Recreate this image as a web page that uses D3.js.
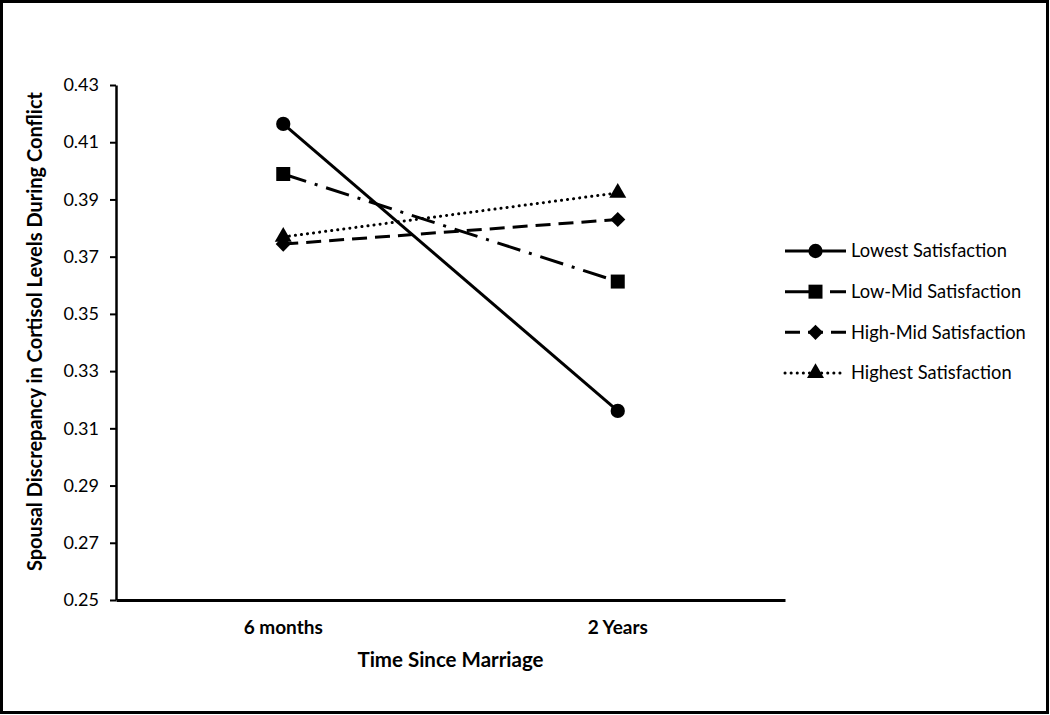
<!DOCTYPE html>
<html>
<head>
<meta charset="utf-8">
<script src="https://cdn.jsdelivr.net/npm/d3@7"></script>
<style>
  body { margin: 0; background: #fff; }
  text { font-family: Lato, "Open Sans", sans-serif; fill: #000; }
</style>
</head>
<body>
<svg id="chart" width="1050" height="715"></svg>
<script>
const categories = ["6 months", "2 Years"]
const yTicks = [0.25, 0.27, 0.29, 0.31, 0.33, 0.35, 0.37, 0.39, 0.41, 0.43]
const seriesNames = ["Lowest Satisfaction", "Low-Mid Satisfaction", "High-Mid Satisfaction", "Highest Satisfaction"]
const lowest = [0.4164, 0.3161]
const lowMid = [0.3989, 0.3613]
const highMid = [0.3744, 0.3830]
const highest = [0.3769, 0.3923]

const seriesValues = [lowest, lowMid, highMid, highest]
const styles = [
    { dash: null, cap: "butt", symbol: d3.symbolCircle, size: 160, rotate: 0 },
    { dash: "24,9,3,9", cap: "butt", symbol: d3.symbolSquare, size: 196, rotate: 0 },
    { dash: "15,8", cap: "butt", symbol: d3.symbolSquare, size: 115, rotate: 45 },
    { dash: "0.1,6", cap: "round", symbol: d3.symbolTriangle, size: 125, rotate: 0 }
]

const svg = d3.select("#chart")
const W = +svg.attr("width"), H = +svg.attr("height")

// outer frame
svg.append("rect").attr("x", 1.5).attr("y", 1.5).attr("width", W - 4).attr("height", H - 4)
    .attr("fill", "#fff").attr("stroke", "#000").attr("stroke-width", 3)

const plotL = 116, plotR = 785, plotT = 85, plotB = 600

const scX = d3.scaleBand().domain(categories).range([plotL, plotR])
const scY = d3.scaleLinear().domain([0.25, 0.43]).range([plotB, plotT])

// y axis
let yAxis = svg.append("g").attr("transform", `translate(${plotL},0)`)
    .call(d3.axisLeft(scY).tickValues(yTicks).tickFormat(d3.format(".2f")).tickSize(6).tickSizeOuter(0))
yAxis.select(".domain").attr("stroke-width", 2.5)
yAxis.selectAll(".tick line").attr("stroke-width", 2)
yAxis.selectAll("text").attr("font-size", 18).attr("x", -17).style("font-family", "Lato, sans-serif")

// x axis
let xAxis = svg.append("g").attr("transform", `translate(0,${plotB})`)
    .call(d3.axisBottom(scX).tickSize(0).tickSizeOuter(0))
xAxis.select(".domain").attr("stroke-width", 3)
xAxis.selectAll("text").attr("font-size", 19).attr("font-weight", "bold").attr("dy", 0).attr("y", 34)
    .style("font-family", "Lato, sans-serif")

// axis titles
svg.append("text").attr("x", (plotL + plotR) / 2).attr("y", 667)
    .attr("text-anchor", "middle").attr("font-size", 20.5).attr("font-weight", "bold")
    .text("Time Since Marriage")
svg.append("text").attr("transform", `translate(42,${(plotT + plotB) / 2 - 11}) rotate(-90)`)
    .attr("text-anchor", "middle").attr("font-size", 20).attr("font-weight", "bold")
    .text("Spousal Discrepancy in Cortisol Levels During Conflict")

// lines and markers
const lnMkr = d3.line().x((d, i) => scX(categories[i]) + scX.bandwidth() / 2).y(d => scY(d))
seriesValues.forEach((vals, s) => {
    let st = styles[s]
    svg.append("path").datum(vals)
        .attr("fill", "none").attr("stroke", "#000").attr("stroke-width", 3)
        .attr("stroke-dasharray", st.dash).attr("stroke-linecap", st.cap)
        .attr("d", lnMkr)
    svg.selectAll(null).data(vals).enter().append("path")
        .attr("d", d3.symbol().type(st.symbol).size(st.size))
        .attr("transform", (d, i) => `translate(${scX(categories[i]) + scX.bandwidth() / 2},${scY(d)}) rotate(${st.rotate})`)
        .attr("fill", "#000")
})

// legend
const legY = d3.scalePoint().domain(seriesNames).range([251, 373])
let leg = svg.selectAll("g.legend").data(seriesNames).enter().append("g")
    .attr("class", "legend")
    .attr("transform", d => `translate(785,${legY(d)})`)
leg.append("line").attr("x1", 0).attr("x2", 61).attr("y1", 0).attr("y2", 0)
    .attr("stroke", "#000").attr("stroke-width", 3)
    .attr("stroke-dasharray", (d, i) => styles[i].dash)
    .attr("stroke-linecap", (d, i) => styles[i].cap)
leg.append("path")
    .attr("d", (d, i) => d3.symbol().type(styles[i].symbol).size(styles[i].size)())
    .attr("transform", (d, i) => `translate(30.5,0) rotate(${styles[i].rotate})`)
leg.append("text").attr("x", 66).attr("dy", "0.35em").attr("font-size", 18.3).text(d => d)
</script>
</body>
</html>
